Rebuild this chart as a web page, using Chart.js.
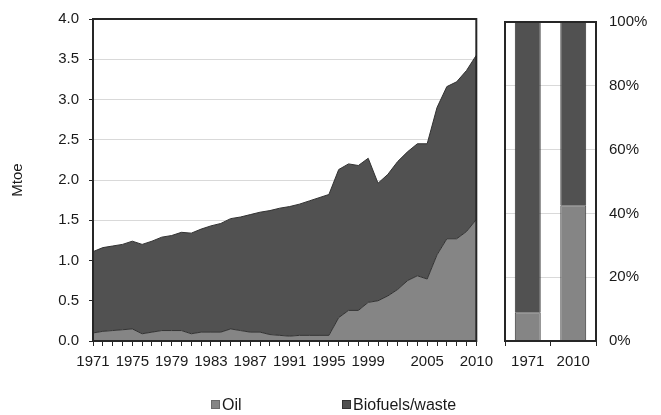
<!DOCTYPE html>
<html>
<head>
<meta charset="utf-8">
<script src="https://cdn.jsdelivr.net/npm/chart.js@4"></script>
<style>
  body { margin: 0; background: #fff; }
  #wrap { position: relative; width: 661px; height: 415px; font-family: "Liberation Sans", Arial, sans-serif; color: #1a1a1a; }
  #mainChart { position: absolute; left: 0; top: 0; }
  #shareChart { position: absolute; left: 490px; top: 0; }
  .leg { position: absolute; top: 396px; font-size: 16px; line-height: 18px; }
  .leg i { display: inline-block; width: 7px; height: 7px; margin-right: 2px; vertical-align: 1px; }
</style>
</head>
<body>
<div id="wrap">
  <canvas id="mainChart" width="500" height="415"></canvas>
  <canvas id="shareChart" width="171" height="415"></canvas>
  <div class="leg" style="left:211px"><i style="background:#858585;border:1px solid #6a6a6a"></i>Oil</div>
  <div class="leg" style="left:342px"><i style="background:#515151;border:1px solid #333"></i>Biofuels/waste</div>
</div>
<script>
// years on the x axis
const years = [];
for (let y = 1971; y <= 2010; y++) years.push(String(y));

// labels actually printed under the area chart
const shownYears = ["1971", "1975", "1979", "1983", "1987", "1991", "1995", "1999", "2005", "2010"];

// Mtoe
const oil = [0.10, 0.12, 0.13, 0.14, 0.15, 0.09, 0.11, 0.13, 0.13, 0.13,
             0.09, 0.11, 0.11, 0.11, 0.15, 0.13, 0.11, 0.11, 0.08, 0.07,
             0.06, 0.07, 0.07, 0.07, 0.07, 0.29, 0.38, 0.38, 0.48, 0.50,
             0.56, 0.64, 0.75, 0.81, 0.77, 1.07, 1.27, 1.27, 1.36, 1.51];
const total = [1.11, 1.16, 1.18, 1.20, 1.24, 1.20, 1.24, 1.29, 1.31, 1.35,
               1.34, 1.39, 1.43, 1.46, 1.52, 1.54, 1.57, 1.60, 1.62, 1.65,
               1.67, 1.70, 1.74, 1.78, 1.82, 2.13, 2.20, 2.18, 2.27, 1.96,
               2.07, 2.23, 2.35, 2.45, 2.45, 2.90, 3.16, 3.22, 3.36, 3.55];
const biofuels = total.map((t, i) => +(t - oil[i]).toFixed(2));

// shares for the 100% panel
const shareYears = ["1971", "2010"];
const last = years.length - 1;
const oilShare = [oil[0] / total[0] * 100, oil[last] / total[last] * 100];
const bioShare = oilShare.map(v => 100 - v);

const DARK = "#262626";
const GRID = "#d9d9d9";
const OIL_COL = "#858585";
const BIO_COL = "#515151";

Chart.defaults.font.family = "'Liberation Sans', Arial, sans-serif";
Chart.defaults.font.size = 15;
Chart.defaults.color = "#1a1a1a";
Chart.defaults.animation = false;

// draw the dark frame round the plot area
const frame = {
    id: "frame",
    afterDraw(chart) {
        const a = chart.chartArea;
        const ctx = chart.ctx;
        ctx.save();
        ctx.strokeStyle = DARK;
        ctx.lineWidth = 2;
        ctx.strokeRect(a.left, a.top, a.right - a.left, a.bottom - a.top);
        ctx.restore();
    }
};

new Chart(document.getElementById("mainChart"), {
    type: "line",
    data: {
        labels: years,
        datasets: [
            {
                label: "Oil",
                data: oil,
                fill: "origin",
                backgroundColor: OIL_COL,
                borderColor: "#333",
                borderWidth: 1,
                pointRadius: 0,
                tension: 0
            },
            {
                label: "Biofuels/waste",
                data: biofuels,
                fill: "-1",
                backgroundColor: BIO_COL,
                borderColor: "#333",
                borderWidth: 1,
                pointRadius: 0,
                tension: 0
            }
        ]
    },
    options: {
        responsive: false,
        layout: { padding: { left: 0, right: 16, top: 13, bottom: 0 } },
        plugins: { legend: { display: false }, tooltip: { enabled: false } },
        scales: {
            x: {
                offset: false,
                grid: { drawOnChartArea: false, tickLength: 5, tickColor: DARK },
                border: { color: DARK, width: 2 },
                ticks: {
                    autoSkip: false,
                    maxRotation: 0,
                    padding: 7,
                    callback: function (v) {
                        const lab = this.getLabelForValue(v);
                        return shownYears.includes(lab) ? lab : "";
                    }
                },
                afterFit: s => { s.height = 74; }
            },
            y: {
                stacked: true,
                min: 0,
                max: 4,
                ticks: { stepSize: 0.5, padding: 10, callback: v => v.toFixed(1) },
                grid: { color: GRID, tickLength: 4, tickColor: DARK },
                border: { color: DARK, width: 2 },
                title: { display: true, text: "Mtoe", padding: { top: 9, bottom: 0 } },
                afterFit: s => { s.width = 93; }
            }
        }
    },
    plugins: [frame]
});

new Chart(document.getElementById("shareChart"), {
    type: "bar",
    data: {
        labels: shareYears,
        datasets: [
            { label: "Oil", data: oilShare, backgroundColor: OIL_COL, borderColor: "#333", borderWidth: 1,
              barPercentage: 0.57, categoryPercentage: 1 },
            { label: "Biofuels/waste", data: bioShare, backgroundColor: BIO_COL, borderColor: "#333", borderWidth: 1,
              barPercentage: 0.57, categoryPercentage: 1 }
        ]
    },
    options: {
        responsive: false,
        layout: { padding: { left: 15, right: 0, top: 13, bottom: 0 } },
        plugins: { legend: { display: false }, tooltip: { enabled: false } },
        scales: {
            x: {
                stacked: true,
                grid: { offset: true, drawOnChartArea: false, tickLength: 5, tickColor: DARK },
                border: { color: DARK, width: 2 },
                ticks: { maxRotation: 0, padding: 7 },
                afterFit: s => { s.height = 74; }
            },
            y: {
                stacked: true,
                position: "right",
                min: 0,
                max: 100,
                ticks: { stepSize: 20, padding: 13, callback: v => v + "%" },
                grid: { color: GRID, drawTicks: false },
                border: { color: DARK, width: 2 },
                afterFit: s => { s.width = 65; }
            }
        }
    },
    plugins: [frame]
});
</script>
</body>
</html>
